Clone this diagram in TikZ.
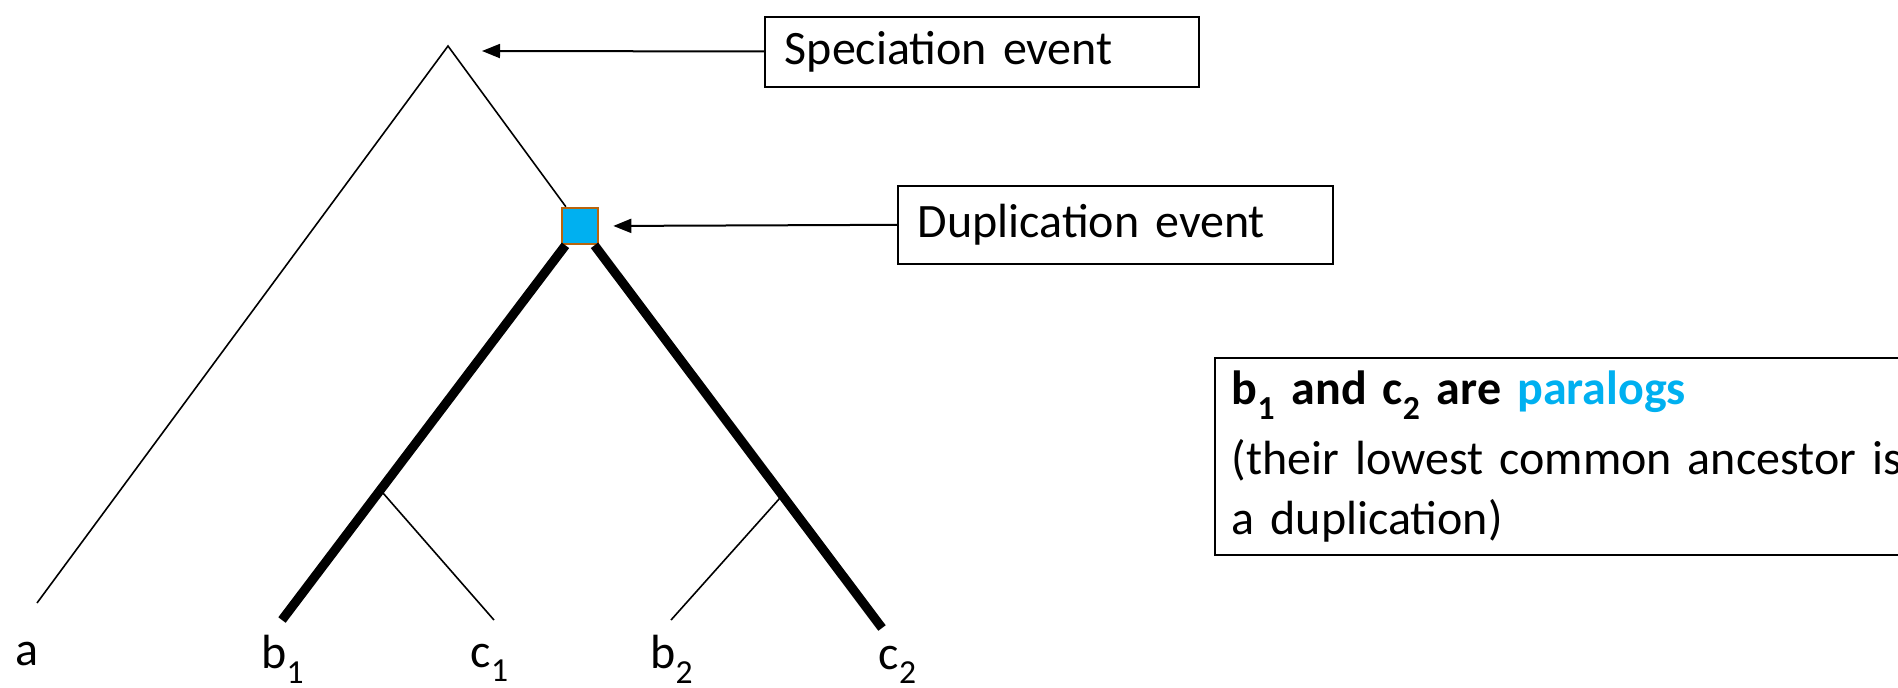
\documentclass[tikz,border=0pt]{standalone}
\usepackage{fontspec}
\setmainfont{Carlito}
\usetikzlibrary{positioning,calc,arrows.meta}
\definecolor{dupblue}{HTML}{00B0F0}
\definecolor{dupbrown}{HTML}{B8640C}
\newcommand\lowsub[1]{\raisebox{-0.15em}{\textsubscript{#1}}}

\begin{document}
\begin{tikzpicture}[x=0.5pt, y=-0.5pt, font=\fontsize{24}{21}\selectfont,
  branch/.style={line width=0.8pt},
  gene/.style={line width=4.6pt},
  leaf/.style={inner sep=0pt},
  callout/.style={draw, line width=0.8pt, anchor=north west, inner xsep=10pt, align=left},
  pointer/.style={-{Triangle[length=9pt,width=7pt]}, line width=1pt}]
\useasboundingbox (0,0) rectangle (1898,687);
% tree
\coordinate (root) at (448,46);
\node (dup) [draw=dupbrown, fill=dupblue, line width=1.3pt, minimum size=18pt, inner sep=0pt] at (580,226) {};
\coordinate (atip) at (37,603);
\coordinate (bonetip) at (282,620);
\coordinate (conetip) at (494,620);
\coordinate (btwotip) at (671,620);
\coordinate (ctwotip) at (882,628);
\coordinate (lsplit) at ($(dup)!0.67!(bonetip)$);
\coordinate (rsplit) at ($(dup)!0.67!(ctwotip)$);
\draw[branch] (atip) -- (root) -- (dup);
\draw[gene] (bonetip) -- (dup) -- (ctwotip);
\draw[branch] (lsplit) -- (conetip);
\draw[branch] (rsplit) -- (btwotip);
% leaves
\node (a) [leaf] at (27,654) {a};
\node (bone) [leaf] at (283,659) {b\lowsub{1}};
\node (cone) [leaf] at (490,663) {c\lowsub{1}};
\node (btwo) [leaf] at (672,659) {b\lowsub{2}};
\node (ctwo) [leaf] at (898,665) {c\lowsub{2}};
% notes
\node (specnote) [callout, text width=197pt, minimum height=35pt] at (764,16) {Speciation event};
\node (dupnote) [callout, text width=197.5pt, minimum height=39pt] at (897,185) {Duplication event};
\node (paranote) [callout, text width=350pt, minimum height=98.5pt, inner xsep=8.5pt] at (1214,357)
  {\textbf{b\lowsub{1} and c\lowsub{2} are \textcolor{dupblue}{paralogs}}\\[9pt]
   (their lowest common ancestor is\\[9pt]a duplication)};
\coordinate (specend) at (482,51);
\draw[pointer] (specnote) -- (specend);
\draw[pointer, shorten >=7pt] (dupnote.west) -- (dup.east);
\end{tikzpicture}
\end{document}
